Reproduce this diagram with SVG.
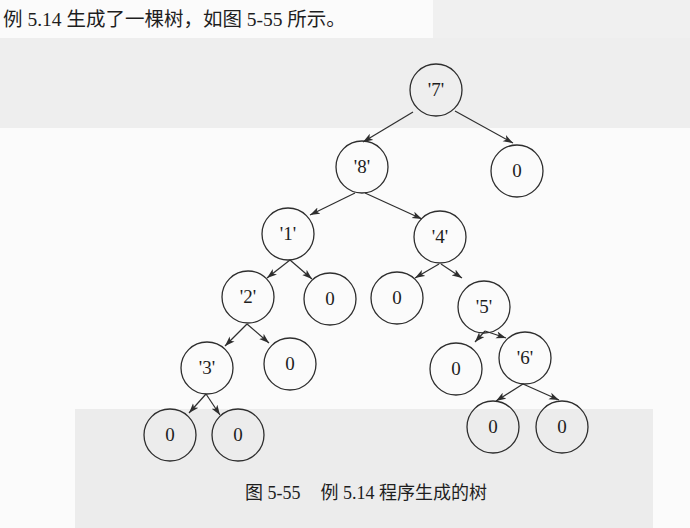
<svg xmlns="http://www.w3.org/2000/svg" width="690" height="528" viewBox="0 0 690 528">
<style>
.bg{stroke:none}
.node circle{fill:none;stroke:#2e2e2e;stroke-width:1.3}
.node text{font-family:"Liberation Serif","Noto Sans CJK SC",serif;font-size:19px;fill:#1e1e1e;text-anchor:middle}
.edges line{stroke:#2e2e2e;stroke-width:1.2;marker-end:url(#arr)}
.cap{font-family:"Liberation Serif","Noto Sans CJK SC",serif;fill:#1e1e1e}
</style>
<defs>
<marker id="arr" viewBox="0 0 10 8" refX="10" refY="4" markerWidth="10" markerHeight="8" markerUnits="userSpaceOnUse" orient="auto">
<path d="M0,0.5 L10,4 L0,7.5 L2.5,4 z" fill="#2e2e2e"/>
</marker>
</defs>
<rect class="bg" x="0" y="0" width="690" height="528" fill="#fbfbfb"/>
<rect class="bg" x="433" y="0" width="257" height="38" fill="#f0f0f0"/>
<rect class="bg" x="0" y="38" width="690" height="90" fill="#eeeeee"/>
<rect class="bg" x="75" y="409" width="578" height="119" fill="#ececec"/>
<text class="cap" x="3" y="26" font-size="19.5">例 5.14 生成了一棵树，如图 5-55 所示。</text>
<g class="edges">
<line x1="413" y1="112" x2="363" y2="142"/>
<line x1="455" y1="111" x2="513" y2="143"/>
<line x1="355" y1="193" x2="310" y2="215"/>
<line x1="365" y1="193" x2="422" y2="219"/>
<line x1="290" y1="260" x2="267" y2="278"/>
<line x1="290" y1="260" x2="312" y2="279"/>
<line x1="439" y1="264" x2="415" y2="278"/>
<line x1="441" y1="264" x2="462" y2="278"/>
<line x1="247" y1="324" x2="225" y2="346"/>
<line x1="247" y1="324" x2="269" y2="343"/>
<line x1="485" y1="331" x2="475" y2="342"/>
<line x1="485" y1="331" x2="506" y2="338"/>
<line x1="206" y1="394" x2="189" y2="413"/>
<line x1="206" y1="394" x2="220" y2="415"/>
<line x1="523" y1="384" x2="496" y2="401"/>
<line x1="523" y1="384" x2="559" y2="400"/>
</g>
<g id="n7" class="node"><circle cx="436" cy="90" r="26"/><text x="436" y="96">'7'</text></g>
<g id="n8" class="node"><circle cx="362" cy="167" r="26"/><text x="362" y="173">'8'</text></g>
<g id="n0a" class="node"><circle cx="517" cy="171" r="26"/><text x="517" y="177">0</text></g>
<g id="n1" class="node"><circle cx="288" cy="234" r="26"/><text x="288" y="240">'1'</text></g>
<g id="n4" class="node"><circle cx="440" cy="237" r="26"/><text x="440" y="243">'4'</text></g>
<g id="n2" class="node"><circle cx="248" cy="297" r="26"/><text x="248" y="303">'2'</text></g>
<g id="n0b" class="node"><circle cx="330" cy="299" r="26"/><text x="330" y="305">0</text></g>
<g id="n0c" class="node"><circle cx="397" cy="298" r="26"/><text x="397" y="304">0</text></g>
<g id="n5" class="node"><circle cx="484" cy="307" r="26"/><text x="484" y="313">'5'</text></g>
<g id="n3" class="node"><circle cx="207" cy="368" r="26"/><text x="207" y="374">'3'</text></g>
<g id="n0d" class="node"><circle cx="290" cy="364" r="26"/><text x="290" y="370">0</text></g>
<g id="n0e" class="node"><circle cx="456" cy="369" r="26"/><text x="456" y="375">0</text></g>
<g id="n6" class="node"><circle cx="525" cy="358" r="26"/><text x="525" y="364">'6'</text></g>
<g id="n0f" class="node"><circle cx="170" cy="435" r="26"/><text x="170" y="441">0</text></g>
<g id="n0g" class="node"><circle cx="238" cy="435" r="26"/><text x="238" y="441">0</text></g>
<g id="n0h" class="node"><circle cx="493" cy="427" r="26"/><text x="493" y="433">0</text></g>
<g id="n0i" class="node"><circle cx="562" cy="427" r="26"/><text x="562" y="433">0</text></g>
<text class="cap" x="245" y="499" font-size="18">图 5-55<tspan dx="20">例 5.14 程序生成的树</tspan></text>
</svg>
